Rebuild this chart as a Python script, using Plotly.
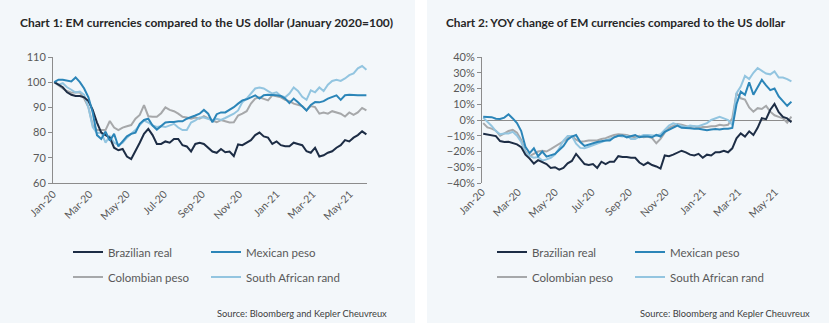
import pandas as pd
import plotly.graph_objects as go

# ---------------- data ----------------
dates = pd.date_range("2020-01-03", periods=74, freq="7D")

series_names = ["Brazilian real", "Mexican peso", "Colombian peso", "South African rand"]

brl_idx = [100, 99, 98, 96, 95, 94.5, 94.5, 94, 92.5, 89,
           84, 80, 79, 78, 74, 73, 73.5, 70.5, 69.5, 72.5,
           76, 79.5, 81.5, 79, 75.5, 75.5, 76.5, 76, 77.5, 77.5,
           75, 74.5, 72.5, 75.5, 76, 75.5, 74, 72.5, 72, 73.5,
           72.2, 72.5, 70.7, 75.3, 75, 76, 77, 79, 80, 78.5,
           78, 75.5, 76.5, 75, 74.6, 74.6, 76, 75.5, 75, 72.6,
           72, 74, 70.5, 71, 72, 72.6, 74, 75, 77, 76.5,
           78, 79, 80.5, 79.3]
mxn_idx = [100, 101, 101, 100.7, 100.3, 101.9, 100, 97.5, 94, 88,
           79, 77.5, 80.4, 76.8, 79.5, 74.5, 76.5, 78.5, 79.5, 80,
           83.5, 85, 85.5, 82.8, 81.2, 82.8, 84, 84.2, 84.2, 84.5,
           84.5, 85.5, 86, 86.8, 87.5, 89, 87.5, 84.1, 87.3, 88,
           88, 89, 90.1, 91.5, 92.8, 93.2, 94, 94.8, 93.5, 94.8,
           95, 95, 94.8, 94.5, 93.5, 91.7, 93.5, 92, 90.4, 88.8,
           91, 92.1, 92, 92.5, 93.5, 94, 94.8, 93, 94.8, 95,
           94.8, 94.8, 94.8, 94.8]
cop_idx = [100, 98.7, 97.5, 96.5, 95.8, 96, 95.9, 93.5, 90, 83,
           81, 81, 81, 84.6, 82, 81, 82, 82.5, 83, 85.5,
           87, 90.9, 86.5, 86.3, 86.3, 87.7, 90, 89, 88.5, 87.5,
           86.3, 86, 85.5, 86, 85.5, 86.5, 85.5, 84.8, 84.1, 85,
           84.5, 84, 84.1, 86.8, 87.5, 88.5, 91.5, 93.5, 94, 93.5,
           92.8, 94.8, 94.5, 94, 93, 92.5, 91.5, 91, 90.5, 88.8,
           90.5, 90.1, 87.5, 88, 87.5, 88.5, 88, 87.5, 86.4, 88,
           87, 88, 89.8, 88.8]
zar_idx = [100, 99, 99.6, 98, 97, 95.9, 96.3, 95, 90, 82.2,
           79.8, 80, 76, 78.5, 76, 75.1, 76, 78, 79.5, 81,
           83, 84.8, 84, 82.8, 82.2, 82.5, 82.2, 83, 83.5, 82,
           81, 81, 84, 84.8, 86, 86, 85.5, 84.9, 85.5, 85,
           85.8, 86.5, 87.5, 88.8, 92.1, 93.5, 95.5, 97.5, 97.9, 97.5,
           96.5, 95.5, 96, 94.5, 94, 95.5, 97.9, 96.5, 94.2, 93,
           96.8, 96, 97.9, 96.5, 99, 100.5, 101, 100.5, 101.5, 102.8,
           103.5, 105.5, 106.4, 104.9]

brl_yoy = [-8.7, -9.2, -9.5, -10.2, -13.4, -14, -13.8, -14.5, -15.5, -17.2,
           -22, -24.5, -27.7, -25.5, -27, -28, -30.4, -30, -31.5, -30.4,
           -27.5, -26, -21.5, -25, -28, -28.5, -28, -30.4, -26.5, -28,
           -26.5, -26.5, -23, -23.5, -23.5, -24, -24, -27, -28.6, -27,
           -28.6, -29.5, -30.9, -22.5, -23, -22, -21, -19.5, -20.5, -22,
           -22.5, -21.5, -24, -22, -22.5, -20.5, -20.5, -19.5, -20.5, -18,
           -11.6, -8.5, -10.5, -7.2, -9.5, -5, 1.1, 0.5, 6.5, 10.2,
           5, 2, 1, -1.5]
mxn_yoy = [2.1, 2.0, 1.8, 0.8, 0.6, 1.5, 3.6, 1.0, -2, -7,
           -17, -21, -18, -23, -20, -23.3, -22.5, -21.5, -19, -16.5,
           -12.5, -10.5, -9.5, -14, -16.5, -15.5, -14.8, -14, -13.5, -13,
           -13, -11, -10, -9.8, -11, -10.2, -9.5, -11, -10.5, -10.5,
           -11, -9.5, -10.5, -7.5, -6, -4.5, -3.5, -5, -5, -5.2,
           -5.5, -5.5, -6, -6.5, -6, -5.7, -6, -5.5, -5.5, -5,
           10, 18, 16, 24, 16, 21, 25.5, 22, 19, 20,
           15, 12, 9, 11.6]
cop_yoy = [-2, -4.7, -5.5, -6.8, -10, -8.5, -7, -6.3, -8, -12.7,
           -20, -22.9, -21.5, -20, -19.5, -20, -18.5, -17, -15, -13.5,
           -11.5, -10.2, -12.5, -13.8, -13.5, -13, -13, -13, -12, -11.5,
           -10.5, -9.5, -9.1, -9.5, -9.5, -10.5, -11, -10, -11, -10.5,
           -11.5, -14.8, -12, -8, -5, -3.8, -2.5, -3, -4, -4.5,
           -4, -5, -4.5, -4.5, -4, -4, -3, -3.5, -3, 1,
           17, 13.8, 13, 8, 5.3, 7.5, 7, 9, 5.3, 3,
           2, 1, -1.7, 2.1]
zar_yoy = [1.5, -1, -3.8, -7, -9.1, -8.5, -8.5, -7.5, -10, -14,
           -20.9, -22.9, -24, -23.5, -25.8, -25, -24, -22, -18, -13,
           -10.2, -10.2, -15, -17.7, -18, -17, -16, -15, -14, -13,
           -12, -11, -10, -10.5, -10, -12, -12, -10.5, -9.5, -9.5,
           -9.8, -10, -9, -6, -3.5, -2.1, -3, -3.5, -4.5, -3.5,
           -4, -4, -3, -2, 0, 1.1, 2, 1, 0, -3,
           17, 21.2, 28, 26, 30, 33, 31, 29.5, 29, 30.9,
           27, 27, 26, 24.5]

idx_values = [brl_idx, mxn_idx, cop_idx, zar_idx]
yoy_values = [brl_yoy, mxn_yoy, cop_yoy, zar_yoy]

titles = ["Chart 1: EM currencies compared to the US dollar (January 2020=100)",
          "Chart 2: YOY change of EM currencies compared to the US dollar"]
source_text = "Source: Bloomberg and Kepler Cheuvreux"

# ---------------- styling ----------------
W, H = 829, 323
colors = ["#1d2d45", "#2b85b8", "#a6a8aa", "#93c5e0"]
FONT = "Lato"
TXT = "#595959"

def px(x):
    return x / W

def py(y):
    return 1 - y / H

legend_rows = [["legend", "legend2"], ["legend3", "legend4"]]
row_of = [0, 0, 1, 1]

fig = go.Figure()
draw_order = [2, 3, 0, 1]
for chart, values in enumerate([idx_values, yoy_values]):
    for i in draw_order:
        fig.add_trace(go.Scatter(
            x=dates, y=values[i], name=series_names[i], mode="lines",
            line=dict(color=colors[i], width=2),
            xaxis="x" if chart == 0 else "x2",
            yaxis="y" if chart == 0 else "y2",
            legend=legend_rows[chart][row_of[i]],
            legendrank=i,
            hoverinfo="skip",
        ))

ydom = [py(183), py(57)]
xcommon = dict(type="date", range=["2020-01-01", "2021-05-29"], dtick="M2",
               tick0="2020-01-01", tickformat="%b-%y", tickangle=-45,
               showgrid=False, zeroline=False, ticks="", automargin=False,
               tickfont=dict(family=FONT, size=10.5, color=TXT))
ycommon = dict(showgrid=False, showline=True, linecolor="#8c8c8c", linewidth=1,
               ticks="outside", ticklen=4, tickcolor="#8c8c8c", automargin=False,
               tickfont=dict(family=FONT, size=11, color=TXT), domain=ydom)

leg_common = dict(orientation="h", xanchor="left", yanchor="middle",
                  bgcolor="rgba(0,0,0,0)", entrywidth=93, entrywidthmode="pixels",
                  itemwidth=30, font=dict(family=FONT, size=11.5, color=TXT),
                  itemclick=False, itemdoubleclick=False)

fig.update_layout(
    template="none",
    width=W, height=H, margin=dict(l=0, r=0, t=0, b=0, autoexpand=False),
    paper_bgcolor="white", plot_bgcolor="rgba(0,0,0,0)",
    font=dict(family=FONT, color=TXT),
    xaxis=dict(domain=[px(53), px(367)], anchor="y", showline=True,
               linecolor="#8c8c8c", **xcommon),
    yaxis=dict(anchor="x", range=[60, 110], dtick=10, zeroline=False, **ycommon),
    xaxis2=dict(domain=[px(482), px(792)], anchor="y2", showline=False, **xcommon),
    yaxis2=dict(anchor="x2", range=[-40, 40], dtick=10, ticksuffix="%",
                zeroline=True, zerolinecolor="#8c8c8c", zerolinewidth=1, **ycommon),
    legend=dict(x=px(68), y=py(252), **leg_common),
    legend2=dict(x=px(68), y=py(277), **leg_common),
    legend3=dict(x=px(492), y=py(252), **leg_common),
    legend4=dict(x=px(492), y=py(277), **leg_common),
    showlegend=True,
    shapes=[
        dict(type="rect", xref="paper", yref="paper", x0=0, x1=px(415), y0=0, y1=1,
             fillcolor="#f3f7fa", line=dict(width=0), layer="below"),
        dict(type="rect", xref="paper", yref="paper", x0=px(427), x1=1, y0=0, y1=1,
             fillcolor="#f3f7fa", line=dict(width=0), layer="below"),
    ],
    annotations=[
        dict(text="<b>" + titles[0] + "</b>", x=px(18), y=py(22), xref="paper", yref="paper",
             xanchor="left", yanchor="middle", showarrow=False,
             font=dict(family=FONT, size=12, color="#262626")),
        dict(text="<b>" + titles[1] + "</b>", x=px(444), y=py(22), xref="paper", yref="paper",
             xanchor="left", yanchor="middle", showarrow=False,
             font=dict(family=FONT, size=11.8, color="#262626")),
        dict(text=source_text, x=px(389), y=py(313), xref="paper", yref="paper",
             xanchor="right", yanchor="middle", showarrow=False,
             font=dict(family=FONT, size=9.3, color="#404040")),
        dict(text=source_text, x=px(812), y=py(313), xref="paper", yref="paper",
             xanchor="right", yanchor="middle", showarrow=False,
             font=dict(family=FONT, size=9.3, color="#404040")),
    ],
)

fig.write_html("out.html")
